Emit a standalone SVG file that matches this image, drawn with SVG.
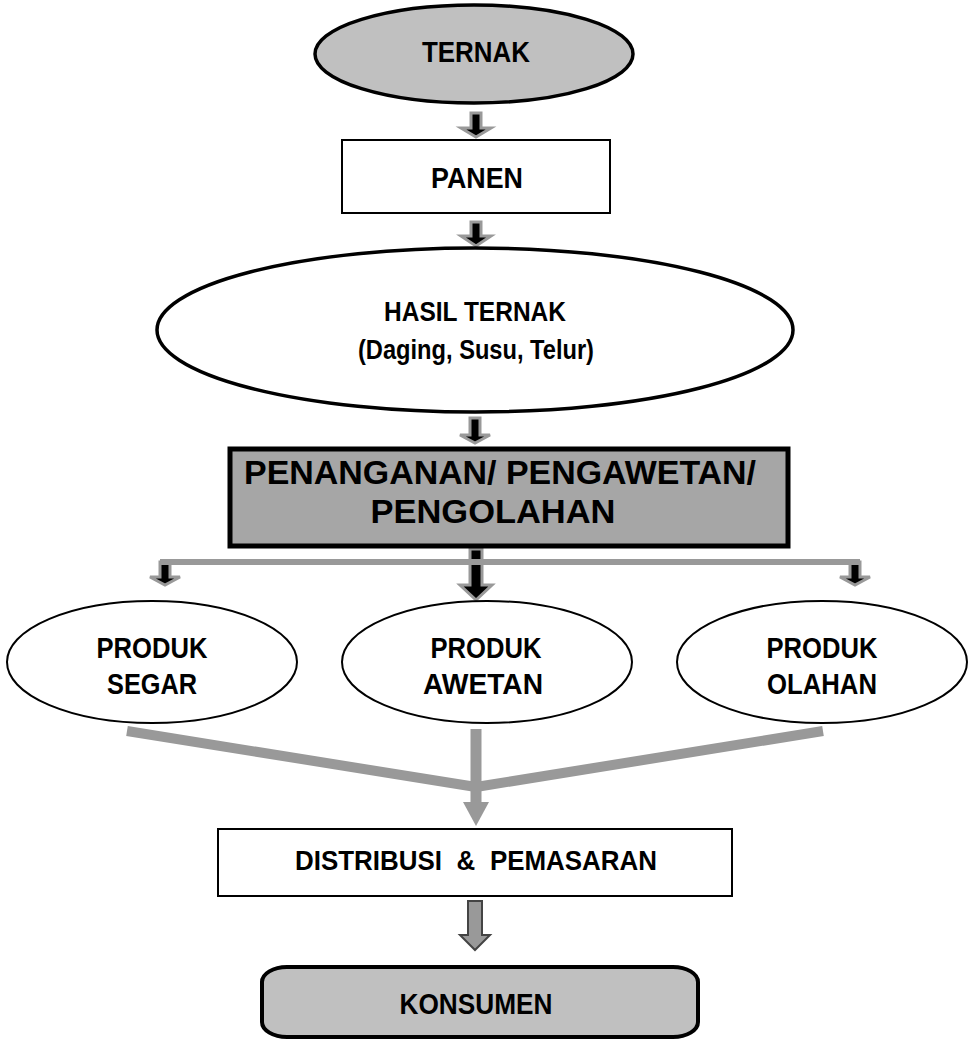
<svg xmlns="http://www.w3.org/2000/svg" width="975" height="1042" viewBox="0 0 975 1042">
<defs>
<style>
.t{font-family:"Liberation Sans Narrow","Liberation Sans",Arial,sans-serif;font-weight:bold;fill:#000;text-anchor:middle}
.tb{font-family:"Liberation Sans",Arial,sans-serif;font-weight:bold;fill:#000;text-anchor:middle;font-size:33px}
.ar{fill:#000;stroke:#999;stroke-width:3;stroke-linejoin:miter}
.gl{stroke:#999;fill:none}
.ell{fill:#fff;stroke:#000}
</style>
</defs>
<rect width="975" height="1042" fill="#fff"/>
<g id="connectors">
<path class="ar" transform="translate(476,113)" d="M-5,0 H5 V15 H15 L0,24 L-15,15 H-5 Z"/>
<path class="ar" transform="translate(476,222)" d="M-5,0 H5 V14 H15 L0,24 L-15,14 H-5 Z"/>
<path class="ar" transform="translate(475,418)" d="M-5,0 H5 V17 H15 L0,25 L-15,17 H-5 Z"/>
<path class="ar" transform="translate(476,549)" d="M-6,0 H6 V36 H16 L0,51 L-16,36 H-6 Z"/>
<path class="ar" transform="translate(165,562)" d="M-5,0 H5 V15 H15 L0,23 L-15,15 H-5 Z"/>
<path class="ar" transform="translate(855,562)" d="M-5,0 H5 V15 H15 L0,23 L-15,15 H-5 Z"/>
<line class="gl" x1="160" y1="562" x2="860" y2="562" stroke-width="6"/>
<line class="gl" x1="127" y1="731" x2="476" y2="787" stroke-width="10"/>
<line class="gl" x1="823" y1="731" x2="476" y2="787" stroke-width="10"/>
<line class="gl" x1="476" y1="729" x2="476" y2="804" stroke-width="11"/>
<polygon points="463,802 489,802 476,826" fill="#999"/>
<path transform="translate(475,901)" d="M-7,0 H7 V34 H15 L0,49 L-15,34 H-7 Z" fill="#999" stroke="#444" stroke-width="2"/>
</g>
<g id="ternak">
<ellipse cx="474" cy="54" rx="159" ry="49" fill="#c0c0c0" stroke="#000" stroke-width="3.5"/>
<text class="t" x="476" y="62" font-size="29" textLength="108" lengthAdjust="spacingAndGlyphs">TERNAK</text>
</g>
<g id="panen">
<rect x="342" y="140" width="268" height="73" fill="#fff" stroke="#000" stroke-width="2"/>
<text class="t" x="477" y="188" font-size="29" textLength="92" lengthAdjust="spacingAndGlyphs">PANEN</text>
</g>
<g id="hasil">
<ellipse class="ell" cx="475" cy="330" rx="318" ry="82" stroke-width="3.5"/>
<text class="t" x="475" y="321" font-size="28" textLength="182" lengthAdjust="spacingAndGlyphs">HASIL TERNAK</text>
<text class="t" x="476" y="359" font-size="28" textLength="236" lengthAdjust="spacingAndGlyphs">(Daging, Susu, Telur)</text>
</g>
<g id="penanganan">
<rect x="230" y="449" width="558" height="97" fill="#a6a6a6" stroke="#000" stroke-width="5"/>
<text class="tb" x="500" y="484" textLength="512" lengthAdjust="spacingAndGlyphs">PENANGANAN/ PENGAWETAN/</text>
<text class="tb" x="493" y="523" textLength="245" lengthAdjust="spacingAndGlyphs">PENGOLAHAN</text>
</g>
<g id="segar">
<ellipse class="ell" cx="152" cy="662" rx="145" ry="61" stroke-width="2"/>
<text class="t" x="152" y="658" font-size="29" textLength="111" lengthAdjust="spacingAndGlyphs">PRODUK</text>
<text class="t" x="152" y="694" font-size="29" textLength="90" lengthAdjust="spacingAndGlyphs">SEGAR</text>
</g>
<g id="awetan">
<ellipse class="ell" cx="487" cy="662" rx="145" ry="61" stroke-width="2"/>
<text class="t" x="486" y="658" font-size="29" textLength="111" lengthAdjust="spacingAndGlyphs">PRODUK</text>
<text class="t" x="483" y="694" font-size="29" textLength="120" lengthAdjust="spacingAndGlyphs">AWETAN</text>
</g>
<g id="olahan">
<ellipse class="ell" cx="822" cy="662" rx="145" ry="61" stroke-width="2"/>
<text class="t" x="822" y="658" font-size="29" textLength="111" lengthAdjust="spacingAndGlyphs">PRODUK</text>
<text class="t" x="822" y="694" font-size="29" textLength="110" lengthAdjust="spacingAndGlyphs">OLAHAN</text>
</g>
<g id="distribusi">
<rect x="218" y="829" width="514" height="67" fill="#fff" stroke="#000" stroke-width="2"/>
<text class="t" x="476" y="870" font-size="28" word-spacing="8" textLength="362" lengthAdjust="spacingAndGlyphs">DISTRIBUSI &amp; PEMASARAN</text>
</g>
<g id="konsumen">
<rect x="262" y="967" width="436" height="70" rx="25" ry="15" fill="#c0c0c0" stroke="#000" stroke-width="4"/>
<text class="t" x="476" y="1014" font-size="29" textLength="153" lengthAdjust="spacingAndGlyphs">KONSUMEN</text>
</g>
</svg>
